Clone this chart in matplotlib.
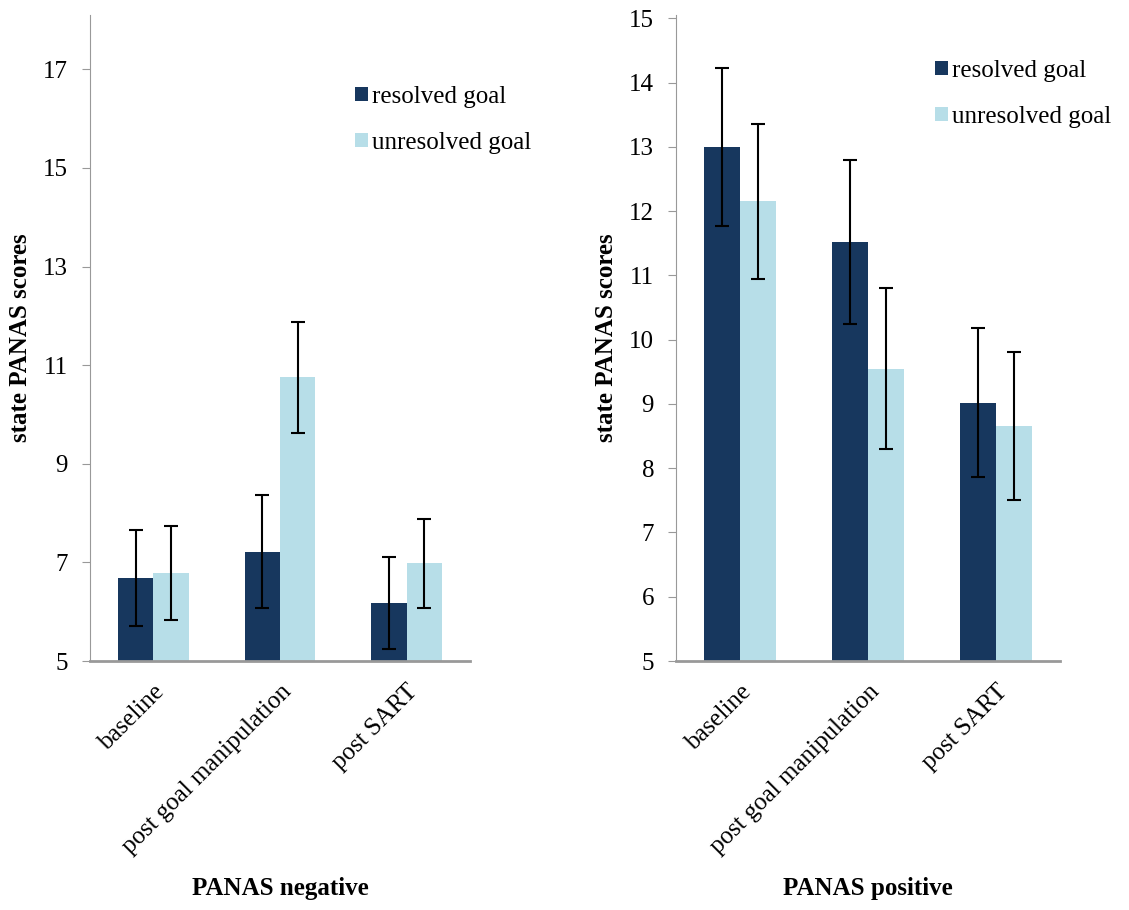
import matplotlib.pyplot as plt
from matplotlib.transforms import ScaledTranslation
import numpy as np

plt.rcParams['font.family'] = ['Liberation Serif', 'DejaVu Serif']

categories = ["baseline", "post goal manipulation", "post SART"]
labels = ["resolved goal", "unresolved goal"]
colors = ["#17375E", "#B7DEE8"]

# PANAS negative
neg_resolved = [6.68, 7.22, 6.17]
neg_unresolved = [6.78, 10.75, 6.98]
neg_resolved_err = [0.97, 1.15, 0.93]
neg_unresolved_err = [0.95, 1.13, 0.90]

# PANAS positive
pos_resolved = [13.0, 11.52, 9.02]
pos_unresolved = [12.15, 9.55, 8.65]
pos_resolved_err = [1.23, 1.28, 1.16]
pos_unresolved_err = [1.20, 1.25, 1.15]


def draw_panel(ax, means, errs, ylim, yticks, xlabel, legend_xy):
    x = np.arange(len(categories))
    bar_width = 0.28
    for i in range(2):
        pos = x + (i - 0.5) * bar_width
        ax.bar(pos, np.array(means[i]) - ylim[0], bottom=ylim[0], width=bar_width,
               color=colors[i], label=labels[i], zorder=2)
        ax.errorbar(pos, means[i], yerr=errs[i], fmt='none', ecolor='black',
                    elinewidth=1.5, capsize=5, capthick=1.5, zorder=3)
    ax.set_xlim(-0.5, len(categories) - 0.5)
    ax.set_ylim(*ylim)
    ax.set_yticks(yticks)
    ax.set_yticklabels([str(t) for t in yticks], fontsize=18)
    ax.set_xticks(x)
    ax.set_xticklabels(categories, rotation=45, ha='right', rotation_mode='anchor',
                       fontsize=18)
    shift = ScaledTranslation(-6 / 100, -5 / 100, ax.figure.dpi_scale_trans)
    for lab in ax.get_xticklabels():
        lab.set_transform(lab.get_transform() + shift)
    ax.tick_params(axis='x', length=0, pad=14)
    ax.tick_params(axis='y', length=6, color='#999999', direction='out', pad=10)
    for s in ['top', 'right']:
        ax.spines[s].set_visible(False)
    ax.spines['left'].set_color('#999999')
    ax.spines['bottom'].set_color('#999999')
    ax.spines['bottom'].set_linewidth(2)
    ax.set_ylabel('state PANAS scores', fontsize=18, fontweight='bold', labelpad=8)
    ax.set_xlabel(xlabel, fontsize=18, fontweight='bold', labelpad=14)
    ax.legend(loc='upper left', frameon=False, fontsize=18, handlelength=0.52,
              handleheight=0.52, handletextpad=0.15, labelspacing=0.95, borderpad=0,
              borderaxespad=0,
              bbox_to_anchor=(legend_xy[0] / 1129, 1 - legend_xy[1] / 910),
              bbox_transform=ax.figure.transFigure)


fig = plt.figure(figsize=(11.29, 9.10), dpi=100)
ax1 = fig.add_axes([0.0797, 0.2736, 0.3366, 0.7099])
ax2 = fig.add_axes([0.599, 0.2736, 0.340, 0.7099])

draw_panel(ax1, [neg_resolved, neg_unresolved], [neg_resolved_err, neg_unresolved_err],
           (5, 18.1), [5, 7, 9, 11, 13, 15, 17], 'PANAS negative', (355, 86))
draw_panel(ax2, [pos_resolved, pos_unresolved], [pos_resolved_err, pos_unresolved_err],
           (5, 15.05), list(range(5, 16)), 'PANAS positive', (935, 60))

fig.savefig('out.png', dpi=100)
